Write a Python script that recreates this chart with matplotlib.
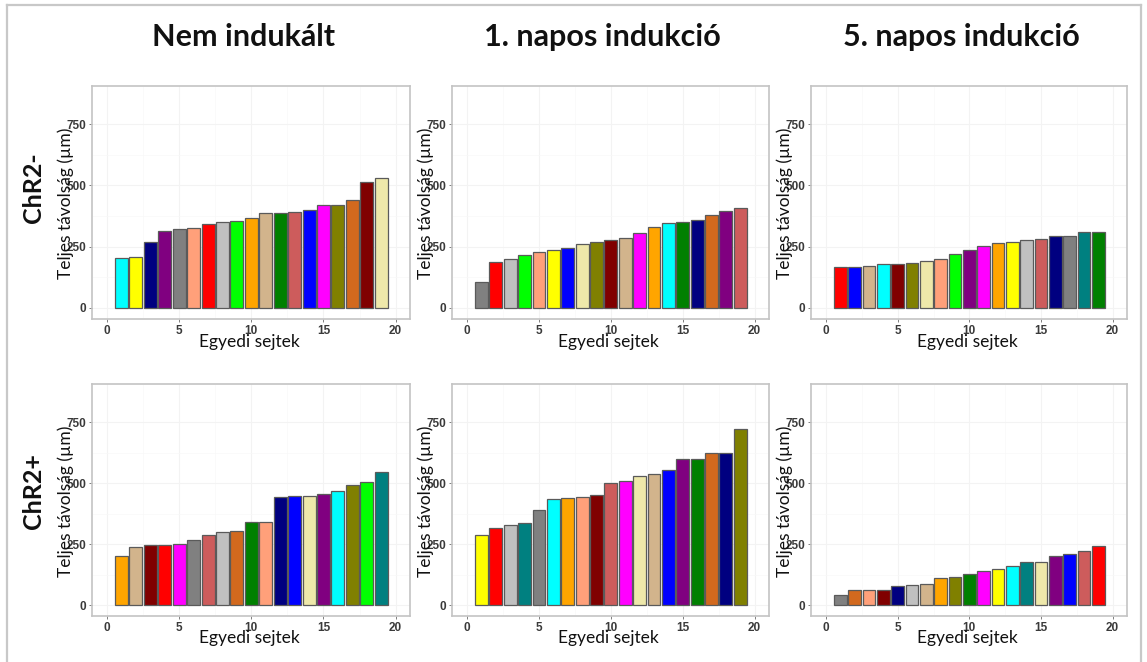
import numpy as np
import matplotlib
matplotlib.use('Agg')
import matplotlib.pyplot as plt
from matplotlib.lines import Line2D

# cell index on the x axis
cells = np.arange(1, 20)

# ChR2- row
neg_none_vals = [202, 209, 270, 314, 323, 326, 342, 349, 355, 367, 387, 387, 393, 401, 419, 421, 440, 514, 530]
neg_none_cols = ['cyan', 'yellow', 'navy', 'purple', 'gray', 'lightsalmon', 'red', 'silver', 'lime', 'orange',
                 'tan', 'green', 'indianred', 'blue', 'magenta', 'olive', 'chocolate', 'maroon', 'palegoldenrod']
neg_day1_vals = [108, 188, 198, 215, 228, 236, 245, 260, 271, 278, 285, 305, 330, 346, 349, 360, 379, 395, 408]
neg_day1_cols = ['gray', 'red', 'silver', 'lime', 'lightsalmon', 'yellow', 'blue', 'palegoldenrod', 'olive', 'maroon',
                 'tan', 'magenta', 'orange', 'cyan', 'green', 'navy', 'chocolate', 'purple', 'indianred']
neg_day5_vals = [169, 169, 172, 181, 181, 185, 192, 198, 222, 237, 254, 265, 269, 279, 282, 292, 295, 310, 310]
neg_day5_cols = ['red', 'blue', 'tan', 'cyan', 'maroon', 'olive', 'palegoldenrod', 'lightsalmon', 'lime', 'purple',
                 'magenta', 'orange', 'yellow', 'silver', 'indianred', 'navy', 'gray', 'teal', 'green']

# ChR2+ row
pos_none_vals = [200, 237, 248, 248, 250, 265, 289, 299, 305, 340, 340, 443, 445, 445, 455, 468, 494, 505, 545]
pos_none_cols = ['orange', 'tan', 'maroon', 'red', 'magenta', 'gray', 'indianred', 'silver', 'chocolate', 'green',
                 'lightsalmon', 'navy', 'blue', 'palegoldenrod', 'purple', 'cyan', 'olive', 'lime', 'teal']
pos_day1_vals = [286, 314, 326, 338, 389, 436, 439, 442, 451, 500, 507, 528, 536, 554, 599, 599, 622, 625, 723]
pos_day1_cols = ['yellow', 'red', 'silver', 'teal', 'gray', 'cyan', 'orange', 'lightsalmon', 'maroon', 'indianred',
                 'magenta', 'palegoldenrod', 'tan', 'blue', 'purple', 'green', 'chocolate', 'navy', 'olive']
pos_day5_vals = [42, 63, 63, 63, 79, 83, 86, 112, 116, 128, 138, 148, 161, 175, 177, 202, 211, 220, 241]
pos_day5_cols = ['gray', 'chocolate', 'lightsalmon', 'maroon', 'navy', 'silver', 'tan', 'orange', 'olive', 'green',
                 'magenta', 'yellow', 'cyan', 'teal', 'palegoldenrod', 'purple', 'blue', 'indianred', 'red']

col_titles = ['Nem indukált', '1. napos indukció', '5. napos indukció']
row_titles = ['ChR2-', 'ChR2+']
ylab = 'Teljes távolság (µm)'
xlab = 'Egyedi sejtek'

panels = [[(neg_none_vals, neg_none_cols), (neg_day1_vals, neg_day1_cols), (neg_day5_vals, neg_day5_cols)],
          [(pos_none_vals, pos_none_cols), (pos_day1_vals, pos_day1_cols), (pos_day5_vals, pos_day5_cols)]]

W, H = 1147, 662
fig = plt.figure(figsize=(W / 100, H / 100), dpi=100)
fig.patch.set_facecolor('white')

def fx(px):
    return px / W

def fy(py):
    return 1 - py / H

# panel boxes in pixels
lefts = [92, 452, 811]
rights = [410, 769, 1127]
tops = [86, 384]
bottoms = [319, 616]

label_font = ['Lato', 'DejaVu Sans']
tick_font = 'Liberation Sans'

for r in range(2):
    for c in range(3):
        vals, cols = panels[r][c]
        l, rr, t, b = lefts[c], rights[c], tops[r], bottoms[r]
        ax = fig.add_axes([fx(l), fy(b), fx(rr - l), (b - t) / H])
        ax.bar(cells, vals, width=0.9, color=cols, edgecolor='#5a5a5a', linewidth=0.9, zorder=3)
        ax.set_xlim(-1.05, 21.0)
        ax.set_ylim(-45, 906)
        ax.set_xticks([0, 5, 10, 15, 20])
        ax.set_yticks([0, 250, 500, 750])
        ax.set_xticks([2.5, 7.5, 12.5, 17.5], minor=True)
        ax.set_yticks([125, 375, 625], minor=True)
        ax.grid(which='major', color='#f3f3f3', linewidth=0.8, zorder=0)
        ax.grid(which='minor', color='#f8f8f8', linewidth=0.5, zorder=0)
        ax.tick_params(which='minor', length=0)
        ax.tick_params(which='major', length=2.5, width=0.7, color='#7f7f7f', pad=1.5,
                       labelsize=8.5, labelcolor='#3a3a3a')
        for lab in ax.get_xticklabels() + ax.get_yticklabels():
            lab.set_fontfamily(tick_font)
            lab.set_fontweight('bold')
        for sp in ax.spines.values():
            sp.set_color('#c4c4c4')
            sp.set_linewidth(1.2)
        # axis titles
        fig.text(fx(l - 26), fy((t + b) / 2 + 1), ylab, rotation=90, ha='center', va='center',
                 fontsize=12.5, family=label_font, color='#111111')
        fig.text(fx((l + rr) / 2 - 2), fy(b + 22.5), xlab, ha='center', va='center',
                 fontsize=12.5, family=label_font, color='#111111')

# column headers
for c, title in enumerate(col_titles):
    fig.text(fx((lefts[c] + rights[c]) / 2 - 8), fy(37), title, ha='center', va='center',
             fontsize=22, fontweight='bold', family=label_font, color='#111111')

# row headers
for r, title in enumerate(row_titles):
    fig.text(fx(34), fy([188, 491][r]), title, rotation=90, ha='center', va='center',
             fontsize=18, fontweight='bold', family=label_font, color='#111111')

# light frame around the figure
frame = dict(color='#c8c8c8', linewidth=1.6, transform=fig.transFigure)
fig.lines.append(Line2D([fx(7), fx(7)], [fy(5), 0], **frame))
fig.lines.append(Line2D([fx(7), fx(1141)], [fy(5), fy(5)], **frame))
fig.lines.append(Line2D([fx(1141), fx(1141)], [fy(5), 0], **frame))

fig.savefig('out.png', dpi=100)
